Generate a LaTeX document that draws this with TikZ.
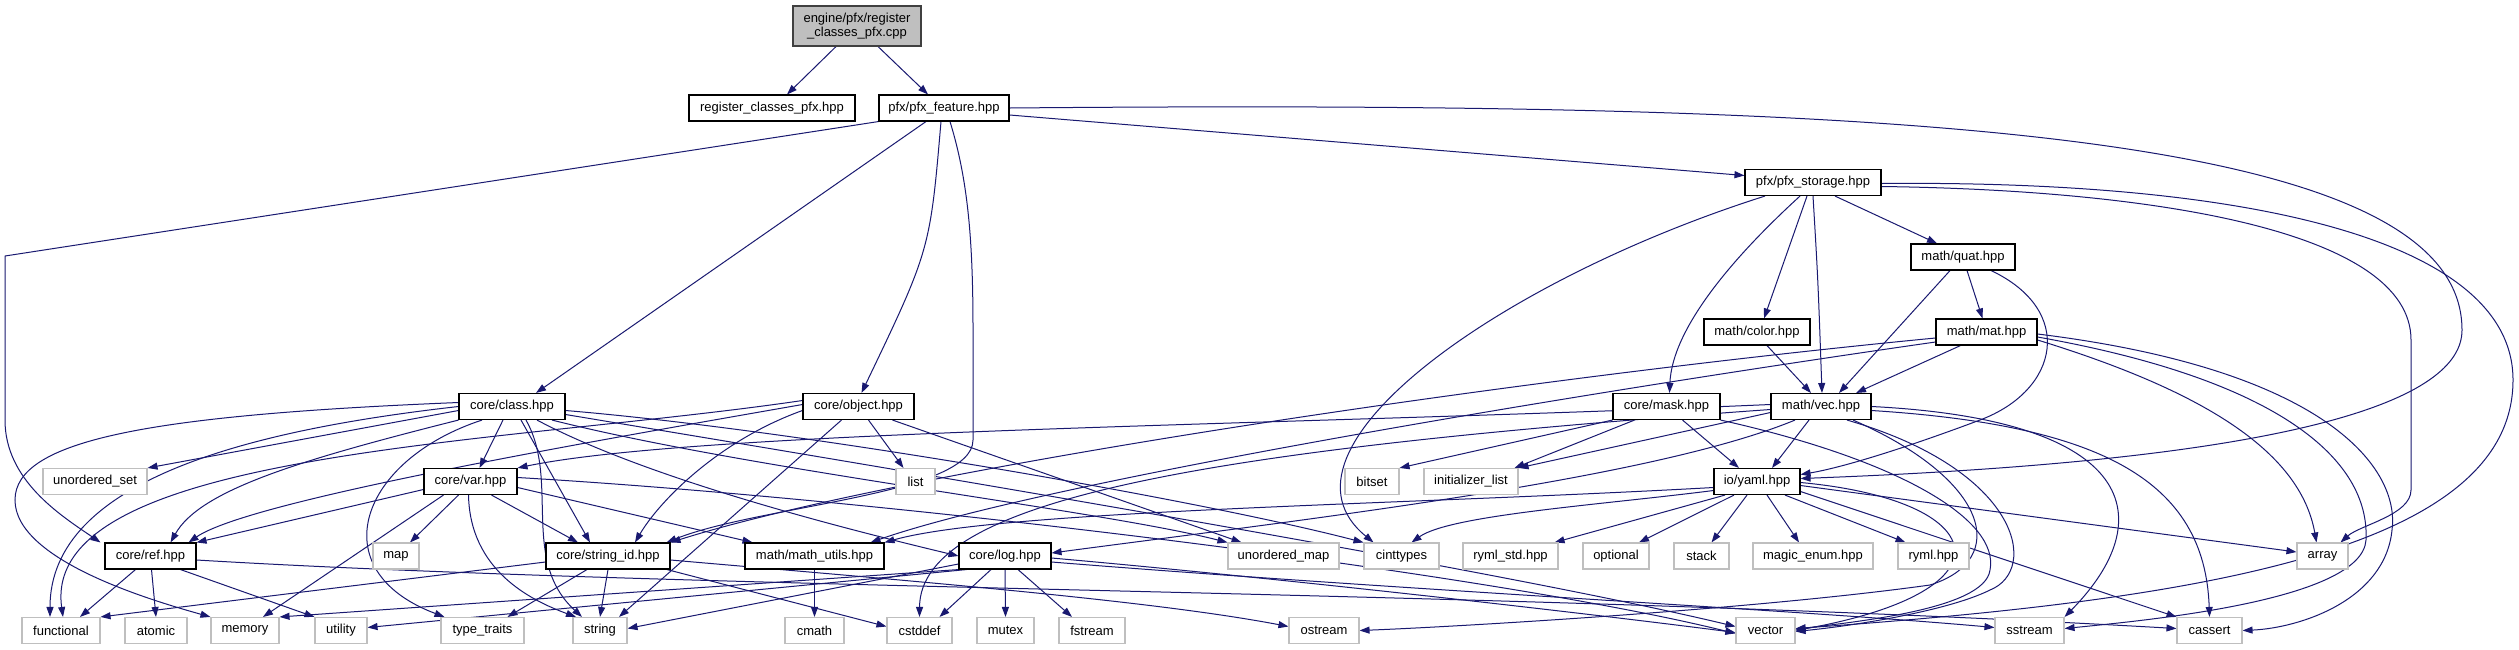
\documentclass[tikz,border=0pt]{standalone}
\usepackage{fontspec}
\setmainfont{Liberation Sans}
\usetikzlibrary{arrows.meta}
\pgfdeclarelayer{bg}
\pgfsetlayers{bg,main}
\definecolor{edgec}{HTML}{191970}
\definecolor{sysc}{HTML}{BFBFBF}
\definecolor{rootc}{HTML}{BFBFBF}
\definecolor{rootb}{HTML}{404040}
\tikzset{
  box/.style={inner sep=0pt, minimum height=26pt, font=\fontsize{13}{14}\selectfont, fill=white, line width=1.1pt},
  hdr/.style={box, draw=black},
  sys/.style={box, draw=sysc},
  rootbox/.style={box, draw=rootb, fill=rootc, align=center, minimum height=40pt},
  e/.style={draw=edgec, line width=1pt, -{Triangle[length=10pt,width=7pt]}},
}
\begin{document}
\begin{tikzpicture}[x=1pt,y=-1pt]
\useasboundingbox (0,0) rectangle (2519,649);

% ---------- nodes ----------
\node[rootbox, minimum width=128pt] (engine) at (857,26) {engine/pfx/register\\\_classes\_pfx.cpp};
\node[hdr, minimum width=166pt] (reg) at (772,108) {register\_classes\_pfx.hpp};
\node[hdr, minimum width=130pt] (feature) at (944,108) {pfx/pfx\_feature.hpp};
\node[hdr, minimum width=136pt] (storage) at (1813,182.5) {pfx/pfx\_storage.hpp};
\node[hdr, minimum width=104pt] (quat) at (1963,257) {math/quat.hpp};
\node[hdr, minimum width=106pt] (color) at (1757,332) {math/color.hpp};
\node[hdr, minimum width=101pt] (mat) at (1986.5,332) {math/mat.hpp};
\node[hdr, minimum width=106pt] (class) at (512,406.5) {core/class.hpp};
\node[hdr, minimum width=111pt] (object) at (858.5,406.5) {core/object.hpp};
\node[hdr, minimum width=107pt] (mask) at (1666.5,406.5) {core/mask.hpp};
\node[hdr, minimum width=100pt] (vec) at (1821,406.5) {math/vec.hpp};
\node[sys, minimum width=104pt] (uset) at (95,481.5) {unordered\_set};
\node[hdr, minimum width=93pt] (var) at (470.5,481.5) {core/var.hpp};
\node[sys, minimum width=39pt] (list) at (915.5,481.5) {list};
\node[sys, minimum width=54pt] (bitset) at (1372,481.5) {bitset};
\node[sys, minimum width=94pt] (init) at (1471,481.5) {initializer\_list};
\node[hdr, minimum width=86pt] (yaml) at (1757,481.5) {io/yaml.hpp};
\node[hdr, minimum width=91pt] (ref) at (150.5,556) {core/ref.hpp};
\node[sys, minimum width=46pt] (map) at (396,556) {map};
\node[hdr, minimum width=124pt] (sid) at (608,556) {core/string\_id.hpp};
\node[hdr, minimum width=139pt] (mu) at (814.5,556) {math/math\_utils.hpp};
\node[hdr, minimum width=92pt] (log) at (1005,556) {core/log.hpp};
\node[sys, minimum width=111pt] (umap) at (1283.5,556) {unordered\_map};
\node[sys, minimum width=75pt] (cint) at (1401.5,556) {cinttypes};
\node[sys, minimum width=95pt] (rymlstd) at (1510.5,556) {ryml\_std.hpp};
\node[sys, minimum width=66pt] (optional) at (1616,556) {optional};
\node[sys, minimum width=55pt] (stack) at (1701.5,556) {stack};
\node[sys, minimum width=120pt] (magic) at (1813,556) {magic\_enum.hpp};
\node[sys, minimum width=71pt] (ryml) at (1933.5,556) {ryml.hpp};
\node[sys, minimum width=51pt] (array) at (2322.5,556) {array};
\node[sys, minimum width=78pt] (functional) at (61,630.5) {functional};
\node[sys, minimum width=62pt] (atomic) at (156,630.5) {atomic};
\node[sys, minimum width=68pt] (memory) at (245,630.5) {memory};
\node[sys, minimum width=52pt] (utility) at (341,630.5) {utility};
\node[sys, minimum width=83pt] (ttraits) at (482.5,630.5) {type\_traits};
\node[sys, minimum width=54pt] (string) at (600,630.5) {string};
\node[sys, minimum width=59pt] (cmath) at (814.5,630.5) {cmath};
\node[sys, minimum width=65pt] (cstddef) at (919.5,630.5) {cstddef};
\node[sys, minimum width=57pt] (mutex) at (1005.5,630.5) {mutex};
\node[sys, minimum width=66pt] (fstream) at (1092,630.5) {fstream};
\node[sys, minimum width=70pt] (ostream) at (1324,630.5) {ostream};
\node[sys, minimum width=59pt] (vector) at (1765.5,630.5) {vector};
\node[sys, minimum width=69pt] (sstream) at (2029.5,630.5) {sstream};
\node[sys, minimum width=65pt] (cassert) at (2209.5,630.5) {cassert};

% ---------- edges ----------
\begin{pgfonlayer}{bg}
\fill[white] (0,0) rectangle (2519,649);
% engine
\draw[e] ([xshift=-21pt]engine.south) -- ([xshift=15pt]reg.north);
\draw[e] ([xshift=21pt]engine.south) -- ([xshift=-16pt]feature.north);
% feature
\draw[e] ([yshift=-7pt]feature.east) -- ([yshift=7pt]storage.west);
\draw[e] ([xshift=-18pt]feature.south) -- ([xshift=24pt]class.north);
\draw[e] ([xshift=-3pt]feature.south) .. controls (930,250) .. ([xshift=3pt]object.north);
\draw[e] (feature.south west) -- (5,256) -- (5,420) .. controls (5,480) and (60,515) .. ([xshift=-50pt]ref.north);
\draw[e] ([xshift=6pt]feature.south) .. controls (968,180) and (973,240) .. (973,330) -- (973,440) .. controls (973,495) and (760,505) .. ([xshift=-4pt]sid.north east);
\draw[e] (feature.east) .. controls (1900,100) and (2462,130) .. (2462,330) .. controls (2462,400) and (2300,460) .. ([yshift=3pt]yaml.east);
% storage
\draw[e] ([xshift=22pt]storage.south) -- ([xshift=-26pt]quat.north);
\draw[e] ([xshift=-6pt]storage.south) -- ([xshift=7pt]color.north);
\draw[e] (storage.south) .. controls (1818,280) .. ([xshift=1pt]vec.north);
\draw[e] ([xshift=-13pt]storage.south) .. controls (1730,260) and (1672,330) .. ([xshift=3pt]mask.north);
\draw[e] ([xshift=-48pt]storage.south) .. controls (1500,280) and (1260,450) .. ([xshift=-28pt]cint.north);
\draw[e] ([yshift=-4pt]storage.east) .. controls (2150,190) and (2411,230) .. (2411,340) -- (2411,490) .. controls (2411,515) and (2360,525) .. ([xshift=18pt]array.north);
\draw[e] ([yshift=-1pt]storage.east) .. controls (2250,180) and (2513,240) .. (2513,380) .. controls (2513,550) and (2200,600) .. ([yshift=2pt]vector.east);
% quat
\draw[e] ([xshift=4pt]quat.south) -- ([xshift=-4pt]mat.north);
\draw[e] ([xshift=-13pt]quat.south) -- ([xshift=18pt]vec.north);
\draw[e] ([xshift=28pt]quat.south) .. controls (2075,310) and (2060,390) .. (1980,420) .. controls (1900,450) and (1840,468) .. ([yshift=7pt]yaml.east);
% color
\draw[e] ([xshift=10pt]color.south) -- ([xshift=-10pt]vec.north);
% mat
\draw[e] ([xshift=-26pt]mat.south) -- ([xshift=35pt]vec.north);
\draw[e] ([yshift=-8pt]mat.east) .. controls (2200,390) and (2300,450) .. ([xshift=-6pt]array.north);
\draw[e] ([yshift=-2pt]mat.east) .. controls (2330,370) and (2400,470) .. (2392,530) .. controls (2385,600) and (2300,628) .. (cassert.east);
\draw[e] ([yshift=-5pt]mat.east) .. controls (2280,380) and (2370,460) .. (2366,540) .. controls (2362,600) and (2150,620) .. ([yshift=2pt]sstream.east);
\draw[e] ([yshift=-10pt]mat.west) .. controls (1600,390) and (1050,480) .. ([xshift=-14pt]mu.north east);
\draw[e] ([yshift=-6pt]mat.west) .. controls (1500,380) and (900,470) .. (sid.north east);
% mask
\draw[e] (mask.south west) -- (bitset.north east);
\draw[e] ([xshift=-32pt]mask.south) -- ([xshift=-4pt]init.north east);
\draw[e] ([xshift=16pt]mask.south) -- ([xshift=-18pt]yaml.north);
\draw[e] (mask.south east) .. controls (1900,460) and (2000,520) .. (1990,570) .. controls (1985,610) and (1850,622) .. ([yshift=1pt]vector.east);
% vec
\draw[e] ([yshift=-6pt]vec.west) -- (init.north east);
\draw[e] ([xshift=-12pt]vec.south) -- ([xshift=15pt]yaml.north);
\draw[e] ([yshift=2pt]vec.west) .. controls (1300,425) and (700,430) .. (var.north east);
\draw[e] ([xshift=-26pt]vec.south) .. controls (1650,480) and (1300,520) .. ([yshift=3pt]log.east);
\draw[e] ([yshift=-3pt]vec.west) .. controls (1200,450) and (920,500) .. (cstddef.north);
\draw[e] ([xshift=26pt]vec.south) .. controls (2020,470) and (2040,570) .. (1990,590) .. controls (1950,610) and (1860,625) .. ([yshift=-1pt]vector.east);
\draw[e] ([xshift=32pt]vec.south) .. controls (1990,480) and (2010,560) .. (1930,585) .. controls (1750,610) and (1450,627) .. (ostream.east);
\draw[e] (vec.east) .. controls (2140,420) and (2160,520) .. (sstream.north east);
\draw[e] ([yshift=-4pt]vec.east) .. controls (2100,425) and (2205,480) .. (cassert.north);
% class
\draw[e] ([yshift=-4pt]class.west) -- (uset.north east);
\draw[e] ([yshift=4pt]class.west) .. controls (150,415) and (15,440) .. (15,500) .. controls (15,560) and (150,600) .. (memory.north west);
\draw[e] (class.west) .. controls (250,430) and (50,480) .. ([xshift=-11pt]functional.north);
\draw[e] (class.south west) .. controls (300,460) and (200,490) .. ([xshift=-26pt]ref.north east);
\draw[e] ([xshift=-9pt]class.south) -- ([xshift=9pt]var.north);
\draw[e] ([xshift=9pt]class.south) -- ([xshift=-18pt]sid.north);
\draw[e] ([xshift=-30pt]class.south) .. controls (360,460) and (320,570) .. ([xshift=-38pt]ttraits.north);
\draw[e] ([xshift=14pt]class.south) .. controls (560,480) and (520,560) .. ([xshift=-18pt]string.north);
\draw[e] ([xshift=25pt]class.south) .. controls (650,480) and (850,530) .. (log.west);
\draw[e] ([xshift=40pt]class.south) .. controls (750,470) and (1100,510) .. (umap.north west);
\draw[e] ([yshift=-4pt]class.east) .. controls (800,430) and (1200,500) .. (cint.north west);
\draw[e] ([yshift=-8pt]class.east) .. controls (900,470) and (1500,570) .. ([yshift=4pt]vector.west);
% object
\draw[e] ([yshift=6pt]object.west) .. controls (500,445) and (40,450) .. ([xshift=2pt]functional.north);
\draw[e] ([yshift=2pt]object.west) .. controls (600,440) and (250,500) .. ([xshift=-8pt]ref.north east);
\draw[e] ([yshift=-4pt]object.west) .. controls (720,440) and (660,500) .. ([xshift=27pt]sid.north);
\draw[e] ([xshift=-17pt]object.south) -- ([xshift=19pt]string.north);
\draw[e] ([xshift=10pt]object.south) -- ([xshift=-12pt]list.north);
\draw[e] ([xshift=34pt]object.south) -- ([xshift=-42pt]umap.north);
% var
\draw[e] ([yshift=-8pt]var.west) -- (ref.north east);
\draw[e] ([xshift=-27pt]var.south) -- ([xshift=18pt]memory.north);
\draw[e] ([xshift=-12pt]var.south) -- ([xshift=14pt]map.north);
\draw[e] ([xshift=-2pt]var.south) .. controls (470,570) and (530,600) .. ([xshift=-24pt]string.north);
\draw[e] ([xshift=21pt]var.south) -- ([xshift=-30pt]sid.north);
\draw[e] ([yshift=-6pt]var.east) -- ([xshift=-62pt]mu.north);
\draw[e] ([yshift=4pt]var.east) .. controls (900,500) and (1500,575) .. ([yshift=-3pt]vector.west);
% ref
\draw[e] ([xshift=-15pt]ref.south) -- ([xshift=19pt]functional.north);
\draw[e] ([xshift=1pt]ref.south) -- (atomic.north);
\draw[e] ([xshift=30pt]ref.south) -- (utility.north west);
\draw[e] ([yshift=-4pt]ref.east) .. controls (700,590) and (1500,590) .. ([yshift=2pt]cassert.west);
% string_id
\draw[e] ([xshift=-21pt]sid.south) -- ([xshift=25pt]ttraits.north);
\draw[e] (sid.south) -- (string.north);
\draw[e] ([xshift=59pt]sid.south) -- ([yshift=4pt]cstddef.west);
\draw[e] ([yshift=-6pt]sid.west) -- (functional.north east);
\draw[e] ([yshift=-4pt]sid.east) .. controls (900,580) and (1150,600) .. ([yshift=4pt]ostream.west);
% math_utils
\draw[e] (mu.south) -- (cmath.north);
% log
\draw[e] ([xshift=-14pt]log.south) -- ([xshift=20pt]cstddef.north);
\draw[e] (log.south) -- (mutex.north);
\draw[e] ([xshift=13pt]log.south) -- ([xshift=-20pt]fstream.north);
\draw[e] ([yshift=-8pt]log.west) -- ([yshift=2pt]string.east);
\draw[e] (log.south west) -- (memory.north east);
\draw[e] ([xshift=8pt]log.south west) -- ([yshift=3pt]utility.east);
\draw[e] ([yshift=-6pt]log.east) .. controls (1400,590) and (1800,610) .. ([yshift=3pt]sstream.west);
\draw[e] ([yshift=-2pt]log.east) .. controls (1300,580) and (1600,615) .. ([yshift=-2pt]vector.west);
% yaml
\draw[e] ([xshift=-32pt]yaml.south) -- ([xshift=-4pt]rymlstd.north east);
\draw[e] ([xshift=-23pt]yaml.south) -- ([xshift=23pt]optional.north);
\draw[e] ([xshift=-10pt]yaml.south) -- ([xshift=10pt]stack.north);
\draw[e] ([xshift=10pt]yaml.south) -- ([xshift=-14pt]magic.north);
\draw[e] ([xshift=28pt]yaml.south) -- ([xshift=-28pt]ryml.north);
\draw[e] ([yshift=-4pt]yaml.east) -- ([yshift=4pt]array.west);
\draw[e] ([yshift=-10pt]yaml.east) -- (cassert.north west);
\draw[e] ([yshift=-1pt]yaml.east) .. controls (1990,500) and (2020,590) .. (vector.east);
\draw[e] ([yshift=-6pt]yaml.west) .. controls (1400,505) and (1000,510) .. (mu.north east);
\draw[e] ([yshift=-9pt]yaml.west) .. controls (1600,505) and (1450,515) .. ([xshift=10pt]cint.north);
\end{pgfonlayer}
\end{tikzpicture}
\end{document}
